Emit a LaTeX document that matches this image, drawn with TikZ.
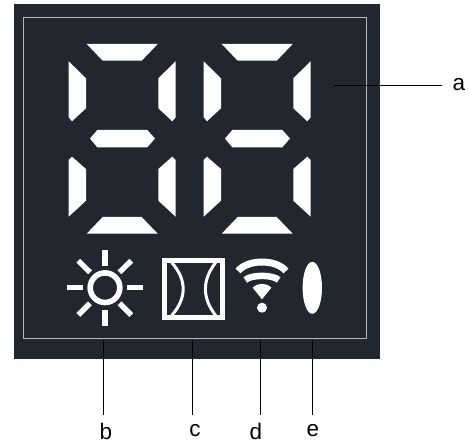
\documentclass[tikz,border=0pt]{standalone}
\usepackage{fontspec}
\setmainfont{Liberation Sans}
\definecolor{panel}{HTML}{22272F}
\definecolor{rim}{HTML}{B4B8BC}
\tikzset{
  seg/.style={fill=white,draw=none},
  ray/.style={draw=white,line width=5.4pt},
  ico/.style={draw=white,fill=none},
  lead/.style={draw=black,line width=.75pt},
  lab/.style={font=\fontsize{22.5}{23}\selectfont,text=black,inner sep=0pt}
}
\newcommand{\digitsegs}{%
  \fill[seg] (86.7,44) -- (157.7,44) -- (141.7,60.7) -- (102.7,60.7) -- cycle;
  \fill[seg] (68.7,61.3) -- (86,78.3) -- (86,108.3) -- (72,121.3) -- (68.7,117.3) -- cycle;
  \fill[seg] (175.7,61.3) -- (158.3,78.3) -- (158.3,108.3) -- (172.3,121.3) -- (175.7,117.3) -- cycle;
  \fill[seg] (90,138.5) -- (97.3,130) -- (147.3,130) -- (155,138.5) -- (147.3,147.3) -- (97.3,147.3) -- cycle;
  \fill[seg] (68.7,160) -- (72,156.7) -- (86,169) -- (86,200.7) -- (68.7,216.7) -- cycle;
  \fill[seg] (175.7,160) -- (172.3,156.7) -- (158.3,169) -- (158.3,200.7) -- (175.7,216.7) -- cycle;
  \fill[seg] (102.7,217) -- (141.7,217) -- (157.7,233.7) -- (86.7,233.7) -- cycle;
}
\begin{document}
\begin{tikzpicture}[x=1pt,y=-1pt]
\useasboundingbox (0,0) rectangle (469,443);
\fill[white] (0,0) rectangle (469,443);
\fill[panel] (14,4.5) rectangle (379.5,359);
\draw[rim,line width=1pt] (23.5,18) rectangle (366.5,338.5);
% digits
\digitsegs
\begin{scope}[xshift=135pt]\digitsegs\end{scope}
% sun
\draw[ico,line width=5.6pt] (105,287.7) circle (14.8pt);
\draw[ray] (67.3,287.7) -- (82.7,287.7);
\draw[ray] (127.3,287.7) -- (142.7,287.7);
\draw[ray] (105,250) -- (105,265.7);
\draw[ray] (105,310) -- (105,326);
\draw[ray] (78.3,260.7) -- (90,272.3);
\draw[ray] (131.3,260.7) -- (119.5,272.3);
\draw[ray] (78.3,315) -- (90,303.3);
\draw[ray] (131.3,315) -- (119.5,303.3);
% square icon
\draw[ico,line width=5pt] (164.2,260.8) rectangle (222.2,317.5);
\draw[ico,line width=3pt] (171.7,262.5) .. controls (187,280) and (187,298) .. (171.7,315.5);
\draw[ico,line width=3pt] (215.7,262.5) .. controls (202,280) and (202,298) .. (215.7,315.5);
% wifi
\fill[white] (262,299.3) -- (252.7,287.7) .. controls (258,282.5) and (266,282.5) .. (271.3,287.7) -- cycle;
\fill[white] (262,307.7) circle (5pt);
\draw[ico,line width=6.5pt] (245.3,280) .. controls (251,274.5) and (273,274.5) .. (278.7,280);
\draw[ico,line width=7pt] (238,271) .. controls (248,259) and (276,259) .. (286,271);
% bar
\fill[white] (312.3,287.8) ellipse (9.7pt and 26pt);
% labels and leaders
\node[lab] (a) at (459,85) {a};
\node[lab] (b) at (106,431) {b};
\node[lab] (c) at (195,431) {c};
\node[lab] (d) at (256,431) {d};
\node[lab] (e) at (313,431) {e};
\coordinate (pa) at (334,85);
\coordinate (pb) at (103,341);
\coordinate (pc) at (192.5,341);
\coordinate (pd) at (260.5,341);
\coordinate (pe) at (312,341);
\draw[lead] (pa) -- (442,85);
\draw[lead] (pb) -- (103,415.5);
\draw[lead] (pc) -- (192.5,415.5);
\draw[lead] (pd) -- (260.5,415.5);
\draw[lead] (pe) -- (312,415.5);
\end{tikzpicture}
\end{document}
